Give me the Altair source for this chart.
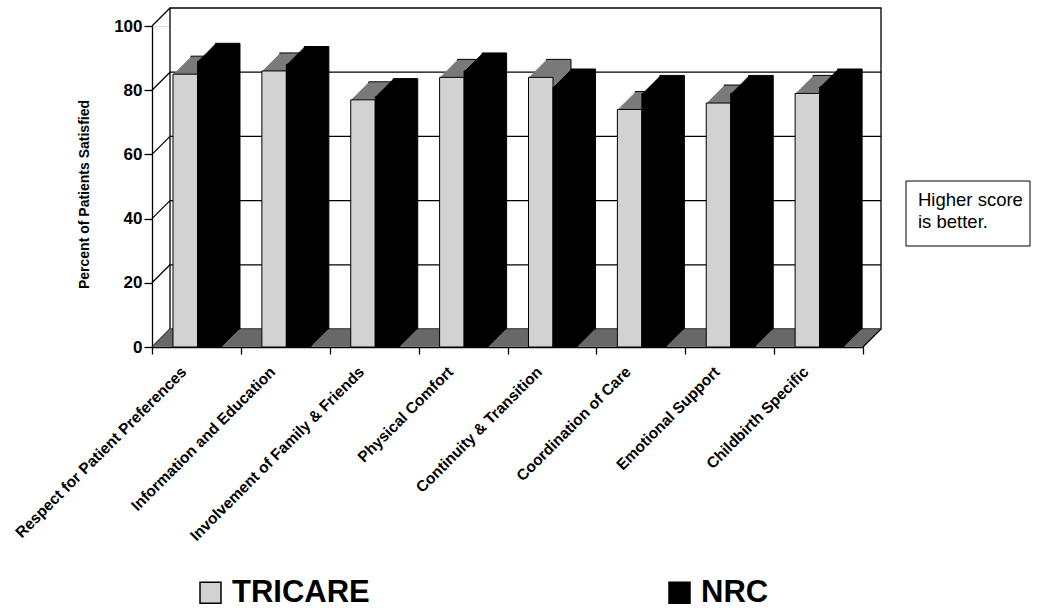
import altair as alt
import pandas as pd

categories = [
    "Respect for Patient Preferences",
    "Information and Education",
    "Involvement of Family & Friends",
    "Physical Comfort",
    "Continuity & Transition",
    "Coordination of Care",
    "Emotional Support",
    "Childbirth Specific",
]
series = ["TRICARE", "NRC"]
tricare = [85, 86, 77, 84, 84, 74, 76, 79]
nrc = [89, 88, 78, 86, 81, 79, 79, 81]
y_ticks = [0, 20, 40, 60, 80, 100]
grid_values = [20, 40, 60, 80]
note_lines = ["Higher score", "is better."]

W, H = 711, 321
D = 18
BAR_W = 24.5
SERIES_SHIFT = {"TRICARE": -11.2, "NRC": 13.3}
FRONT = {"TRICARE": "#d2d2d2", "NRC": "#000000"}
SIDE = {"TRICARE": "#7a7a7a", "NRC": "#000000"}
FONT = "Liberation Sans"

rows = []
for c, t, n in zip(categories, tricare, nrc):
    rows.append({"category": c, "series": "TRICARE", "value": t})
    rows.append({"category": c, "series": "NRC", "value": n})
df = pd.DataFrame(rows)
grid_df = pd.DataFrame({"v": grid_values})
wall_df = pd.DataFrame({"v": y_ticks})
one = pd.DataFrame({"k": [0]})

yscale = alt.Scale(domain=[0, 100], nice=False, zero=True)
yaxis = alt.Axis(
    values=y_ticks, grid=False, title="Percent of Patients Satisfied",
    domainColor="black", domainWidth=1.3, tickColor="black", tickWidth=1.3,
    tickSize=8, labelPadding=2, labelFont=FONT, labelFontSize=17,
    labelFontWeight="bold", labelColor="black",
    titleFont=FONT, titleFontSize=14, titleFontWeight="bold", titleColor="black",
    titleAngle=270, titleX=-68, titleY=168, titleAlign="center", titleBaseline="middle",
)
xaxis = alt.Axis(
    title=None, labelAngle=315, tickBand="extent", tickSize=7, tickColor="black",
    tickWidth=1.3, domainColor="black", domainWidth=1.3, labelFont=FONT,
    labelFontSize=15.5, labelFontWeight="bold", labelColor="black",
    labelPadding=10, labelOffset=-18, labelLimit=0,
)
xenc = alt.X("category:N", sort=categories,
             scale=alt.Scale(paddingInner=0, paddingOuter=0), axis=xaxis)
yenc = alt.Y("value:Q", scale=yscale, axis=yaxis)
fill_scale = alt.Scale(domain=series, range=[FRONT[s] for s in series])
legend = alt.Legend(
    title=None, orient="none", legendX=43, legendY=551,
    direction="horizontal", symbolType="square",
    symbolSize=441, symbolStrokeColor="black",
    symbolStrokeWidth=1.5, labelFont=FONT,
    labelFontSize=31, labelFontWeight="bold",
    labelColor="black", labelOffset=6,
    columnPadding=294, padding=0, labelLimit=0)

layers = []

# back wall
layers.append(
    alt.Chart(one).mark_rect(fill="white", stroke="black", strokeWidth=1.3,
                             xOffset=D, x2Offset=D, yOffset=-D, y2Offset=-D)
    .encode(x=alt.value(0), x2=alt.value(W),
            y=alt.Y(datum=100, type="quantitative", scale=yscale, axis=yaxis),
            y2=alt.Y2(datum=0))
)
# back-wall gridlines
layers.append(
    alt.Chart(grid_df).mark_rule(color="black", strokeWidth=1.3,
                                 xOffset=D, x2Offset=D, yOffset=-D)
    .encode(x=alt.value(0), x2=alt.value(W),
            y=alt.Y("v:Q", scale=yscale, axis=yaxis))
)
# left wall diagonals
layers.append(
    alt.Chart(wall_df).mark_rule(color="black", strokeWidth=1.3, y2Offset=-D)
    .encode(x=alt.value(0), x2=alt.value(D),
            y=alt.Y("v:Q", scale=yscale, axis=yaxis), y2="v:Q")
)
# floor slices
for i in range(1, D + 1):
    layers.append(
        alt.Chart(one).mark_rule(color="#5e5e5e", strokeWidth=1.6,
                                 xOffset=i, x2Offset=i, yOffset=-i)
        .encode(x=alt.value(0), x2=alt.value(W),
                y=alt.Y(datum=0, type="quantitative", scale=yscale, axis=yaxis))
    )
# floor right edge
layers.append(
    alt.Chart(one).mark_rule(color="black", strokeWidth=1.3, y2Offset=-D)
    .encode(x=alt.value(W), x2=alt.value(W + D),
            y=alt.Y(datum=0, type="quantitative", scale=yscale, axis=yaxis),
            y2=alt.Y2(datum=0))
)

# bar depth (drawn from the back to the front), then front faces
for i in range(D, -1, -1):
    for s in series:
        kw = dict(width=BAR_W, xOffset=SERIES_SHIFT[s] + i, yOffset=-i, y2Offset=-i)
        base = alt.Chart(df).transform_filter(alt.datum.series == s)
        if i == 0:
            layers.append(
                base.mark_bar(stroke="black", strokeWidth=1, **kw)
                .encode(x=xenc, y=yenc,
                        fill=alt.Fill("series:N", sort=series, scale=fill_scale,
                                      legend=legend))
            )
        else:
            if i == D:
                kw.update(stroke="black", strokeWidth=1)
            layers.append(
                base.mark_bar(fill=SIDE[s], **kw).encode(x=xenc, y=yenc)
            )

# annotation box
layers.append(
    alt.Chart(one).mark_rect(fill="white", stroke="black", strokeWidth=1)
    .encode(x=alt.value(754), x2=alt.value(878), y=alt.value(155), y2=alt.value(220))
)
layers.append(
    alt.Chart(one).mark_text(align="left", baseline="alphabetic", font=FONT,
                             fontSize=18.5, color="black")
    .encode(x=alt.value(766), y=alt.value(180), text=alt.value(note_lines[0]))
)
layers.append(
    alt.Chart(one).mark_text(align="left", baseline="alphabetic", font=FONT,
                             fontSize=18.5, color="black")
    .encode(x=alt.value(766), y=alt.value(202), text=alt.value(note_lines[1]))
)

chart = alt.layer(*layers).properties(
    width=W, height=H,
    autosize=alt.AutoSizeParams(type="none"),
    padding={"left": 152, "top": 26, "right": 174, "bottom": 264},
).configure_view(stroke=None).configure(background="white")

chart.save("out.html", embed_options={"renderer": "svg", "actions": False})
